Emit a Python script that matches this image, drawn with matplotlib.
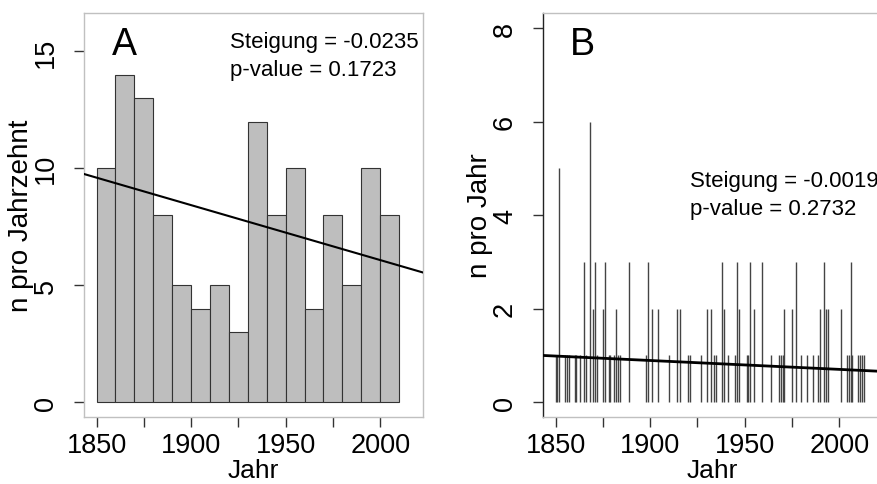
import matplotlib
matplotlib.use("Agg")
import matplotlib.pyplot as plt

plt.rcParams["font.family"] = ["Liberation Sans", "DejaVu Sans"]

# ---- data ----
decade_starts = [1850, 1860, 1870, 1880, 1890, 1900, 1910, 1920,
                 1930, 1940, 1950, 1960, 1970, 1980, 1990, 2000]
decade_counts = [10, 14, 13, 8, 5, 4, 5, 3, 12, 8, 10, 4, 8, 5, 10, 8]

years = [1850, 1851, 1852, 1855, 1856, 1857, 1860, 1861, 1863, 1865,
         1866, 1868, 1870, 1871, 1872, 1875, 1876, 1878, 1879, 1881,
         1882, 1883, 1884, 1889, 1898, 1899, 1901, 1904, 1910, 1914,
         1916, 1920, 1921, 1927, 1930, 1932, 1934, 1935, 1938, 1939,
         1941, 1945, 1946, 1947, 1951, 1952, 1953, 1955, 1959, 1964,
         1968, 1969, 1970, 1971, 1975, 1977, 1980, 1983, 1986, 1989,
         1990, 1992, 1993, 1994, 2001, 2004, 2005, 2006, 2007, 2010,
         2011, 2012, 2013]
year_counts = [1, 1, 5, 1, 1, 1, 1, 1, 1, 3,
               1, 6, 2, 3, 1, 2, 3, 1, 1, 1,
               2, 1, 1, 3, 1, 3, 2, 2, 1, 2,
               2, 1, 1, 1, 2, 2, 1, 1, 3, 2,
               1, 1, 3, 2, 1, 1, 3, 2, 3, 1,
               1, 1, 1, 2, 2, 3, 1, 1, 1, 1,
               2, 3, 2, 2, 2, 1, 1, 3, 1, 1,
               1, 1, 1]

slope_a, level_a_1850 = -0.0235, 9.60
slope_b, level_b_1850 = -0.0019, 0.985
lines_a = ["Steigung = -0.0235", "p-value = 0.1723"]
lines_b = ["Steigung = -0.0019", "p-value = 0.2732"]

fig = plt.figure(figsize=(8.78, 4.85), dpi=100)
ax_a = fig.add_axes([0.0957, 0.138, 0.3861, 0.833])
ax_b = fig.add_axes([0.6185, 0.138, 0.3861, 0.833])

box_col = "#c0c0c0"
tick_col = "#333333"


def style(ax, yticks, ylim, ylabel):
    ax.set_xlim(1843.36, 2022.64)
    pad = (ylim[1] - ylim[0]) * 0.04
    ax.set_ylim(ylim[0] - pad, ylim[1] + pad)
    ax.set_xticks(range(1850, 2001, 25))
    ax.set_xticklabels(["1850", "", "1900", "", "1950", "", "2000"])
    ax.set_yticks(yticks)
    for s in ax.spines.values():
        s.set_color(box_col)
        s.set_linewidth(1)
    ax.tick_params(direction="out", length=7, width=1, color=tick_col,
                   labelsize=19.5)
    ax.tick_params(axis="x", pad=4)
    ax.tick_params(axis="y", pad=11, labelrotation=90)
    for lab in ax.get_yticklabels():
        lab.set_va("center")
    ax.set_xlabel("Jahr", fontsize=19, labelpad=0)
    ax.set_ylabel(ylabel, fontsize=20, labelpad=-1)


def stats(ax, x, y0, y1, lines):
    ax.text(x, y0, lines[0], transform=ax.transAxes, fontsize=16,
            ha="left", va="baseline")
    ax.text(x, y1, lines[1], transform=ax.transAxes, fontsize=16,
            ha="left", va="baseline")


# ---- A: counts per decade ----
ax_a.bar(decade_starts, decade_counts, width=10, align="edge",
         color="#bebebe", edgecolor="#333333", linewidth=0.8, zorder=2)
ax_a.axline((1850, level_a_1850), slope=slope_a, color="black", lw=1.5, zorder=3)
style(ax_a, [0, 5, 10, 15], (0, 16), "n pro Jahrzehnt")
ax_a.text(0.083, 0.899, "A", transform=ax_a.transAxes, fontsize=27,
          ha="left", va="baseline")
stats(ax_a, 0.431, 0.916, 0.847, lines_a)

# ---- B: counts per year ----
ax_b.vlines(years, 0, year_counts, color="#444444", linewidth=1, zorder=2)
ax_b.axline((1850, level_b_1850), slope=slope_b, color="black", lw=2, zorder=3)
style(ax_b, [0, 2, 4, 6, 8], (0, 8), "n pro Jahr")
ax_b.spines["left"].set_color("#222222")
ax_b.text(0.08, 0.899, "B", transform=ax_b.transAxes, fontsize=27,
          ha="left", va="baseline")
stats(ax_b, 0.434, 0.572, 0.502, lines_b)

fig.savefig("out.png", dpi=100)
